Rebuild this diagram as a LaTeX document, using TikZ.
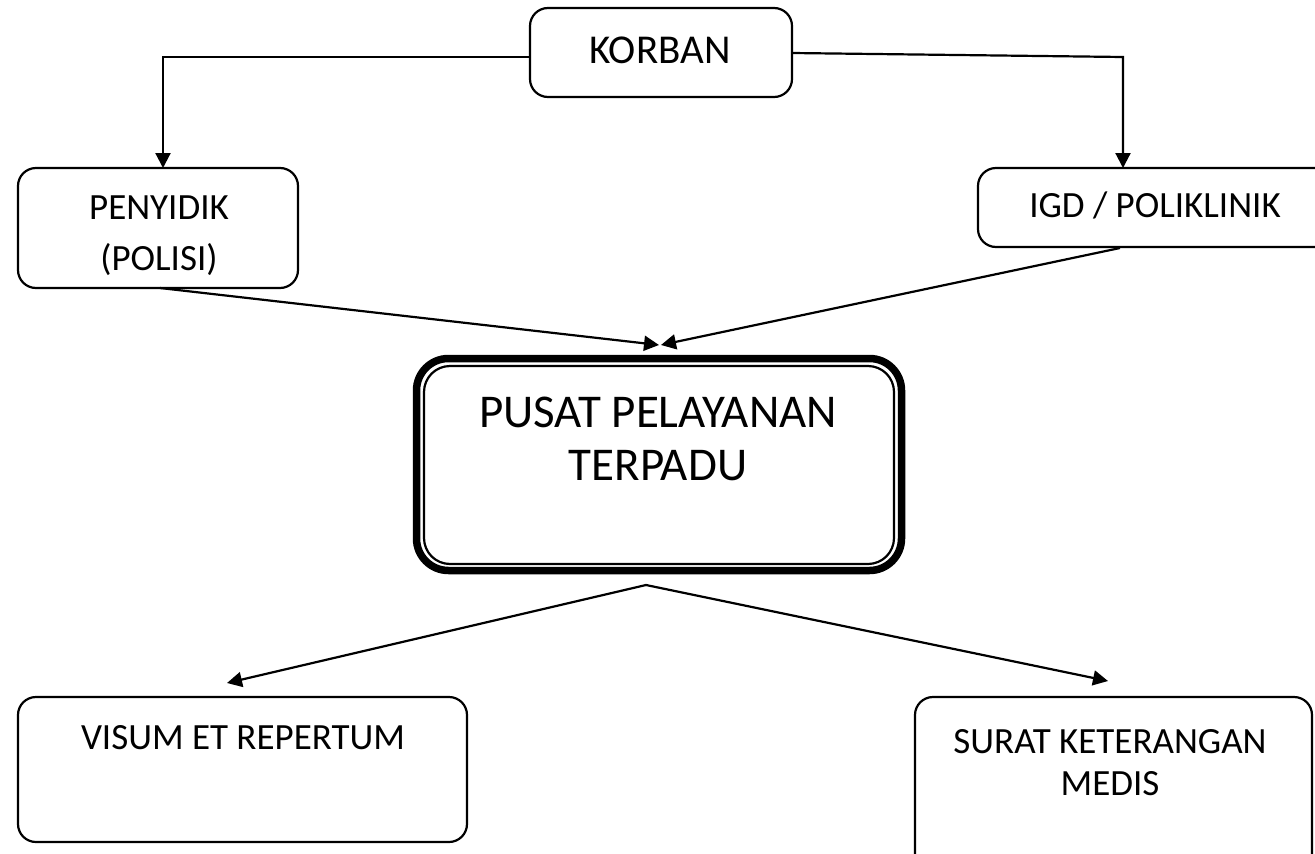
\documentclass[tikz,border=0pt]{standalone}
\usepackage{fontspec}
\setmainfont{Carlito}
\usetikzlibrary{arrows.meta}
\begin{document}
\begin{tikzpicture}[x=1pt,y=-1pt,
  box/.style={draw=black,line width=2.2pt,rounded corners=18pt},
  conn/.style={draw=black,line width=2.2pt},
  arr/.style={conn,-{Triangle[length=15pt,width=15pt]}},
  txt/.style={anchor=base,inner sep=0pt,font=\fontsize{37}{44}\selectfont},
  bigtxt/.style={anchor=base,inner sep=0pt,font=\fontsize{47}{56}\selectfont}]
\useasboundingbox (0,0) rectangle (1315,854);
\clip (0,0) rectangle (1315,854);
% boxes
\draw[box] (530,8) rectangle (792,97);
\coordinate (korbanL) at (530,57);
\coordinate (korbanR) at (792,53);
\draw[box] (18,168) rectangle (298,288);
\draw[box] (978,168) rectangle (1340,247);
\draw[line width=7.5pt,rounded corners=32pt] (416.5,358.5) rectangle (901.5,570.5);
\draw[line width=2.2pt,rounded corners=26pt] (424,366) rectangle (894,564);
\draw[box] (18,697) rectangle (467,842);
\draw[box] (915,697) rectangle (1312,890);
% texts
\node[txt,font=\fontsize{41}{48}\selectfont] (korban) at (660,63) {KORBAN};
\node[txt] (pen1) at (159,219) {PENYIDIK};
\node[txt] (pen2) at (159,270) {(POLISI)};
\node[txt] (igd) at (1155,217) {IGD / POLIKLINIK};
\node[bigtxt] (ppt1) at (658,427) {PUSAT PELAYANAN};
\node[bigtxt] (ppt2) at (658,480) {TERPADU};
\node[txt] (visum) at (243,749) {VISUM ET REPERTUM};
\node[txt] (surat1) at (1110,753) {SURAT KETERANGAN};
\node[txt] (surat2) at (1110,795) {MEDIS};
% connector points
\coordinate (penTop) at (163,168);
\coordinate (igdTop) at (1123,168);
\coordinate (penBot) at (160,288);
\coordinate (igdBot) at (1120,248);
\coordinate (pptInL) at (659,345);
\coordinate (pptInR) at (661,345);
\coordinate (pptOut) at (646,585);
\coordinate (visTop) at (227,683);
\coordinate (surTop) at (1108,681);
\coordinate (rturn) at (1123,57);
% connectors
\draw[arr] (korbanL) -| (penTop);
\draw[arr] (korbanR) -- (rturn) -- (igdTop);
\draw[arr] (penBot) -- (pptInL);
\draw[arr] (igdBot) -- (pptInR);
\draw[arr] (pptOut) -- (visTop);
\draw[arr] (pptOut) -- (surTop);
\end{tikzpicture}
\end{document}
